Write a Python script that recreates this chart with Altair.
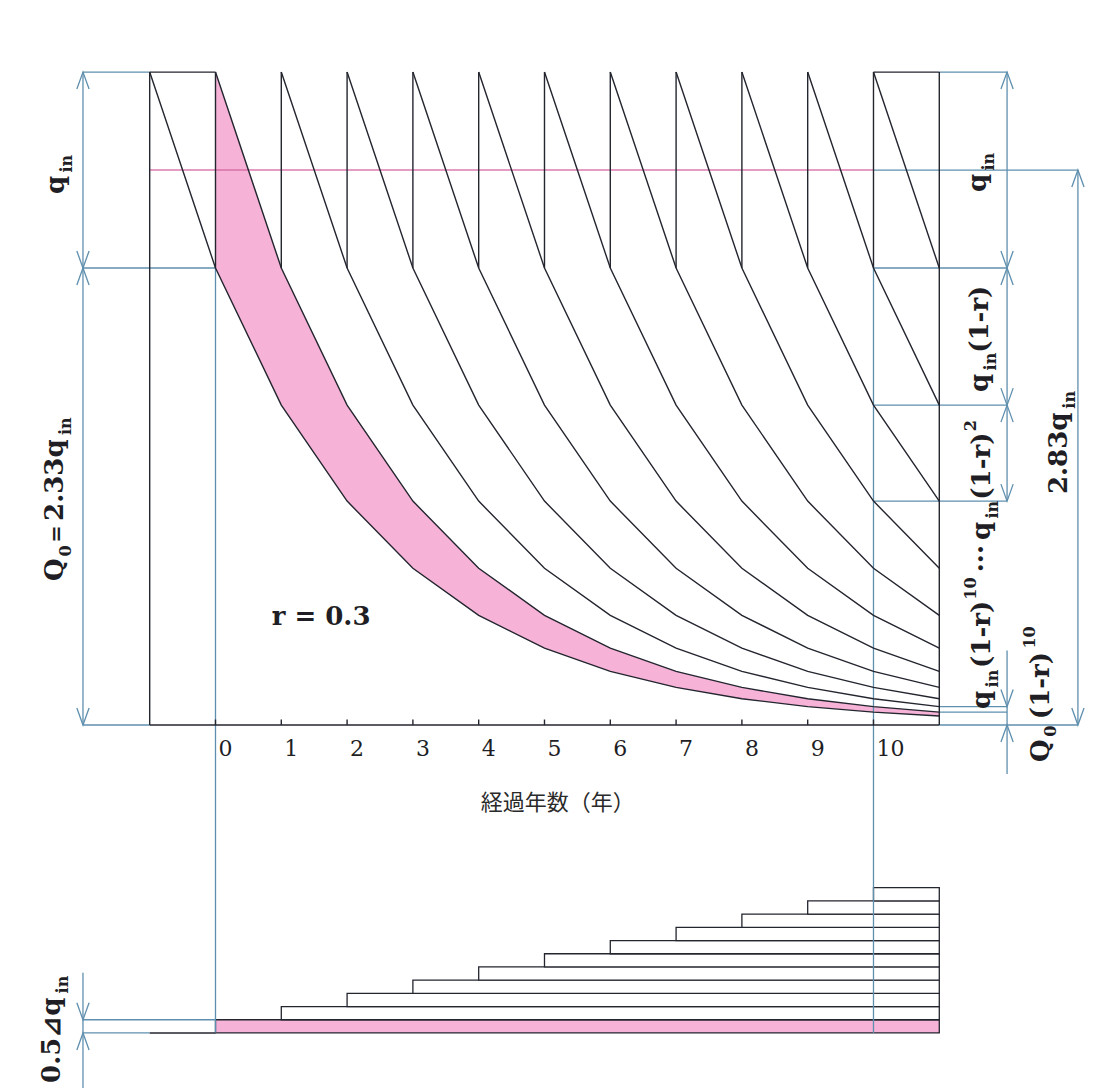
import altair as alt
import pandas as pd

# ---------------------------------------------------------------------------
# Stock left from one year's input q_in (in units of q_in) when the stock
# decays at r = 0.3 per year, s = 0 .. 12 years after the input enters.
stock_by_age = [3.333, 2.333, 1.633, 1.143, 0.800, 0.560, 0.392,
                0.274, 0.192, 0.134, 0.094, 0.066, 0.046]
layer_start_years = list(range(-1, 11))     # year at which each layer line starts
tick_years = list(range(0, 11))
tick_labels = [str(t) for t in tick_years]
end_year = 11
level_high = 3.333      # Q0 + q_in
level_q0 = 2.333        # Q0 = 2.33 q_in
level_mean = 2.833      # 2.83 q_in
right_marks = [2.333, 1.633, 1.143]          # layer levels read at year 11
tail_marks = [0.094, 0.066]
stair_start_years = list(range(0, 11))       # one row of 0.5 dq_in per year

# ---------------------------------------------------------------------------
DARK = "#23252f"
TEAL = "#5f8fae"
PINK = "#f6b2d7"
MAGENTA = "#d4649f"
SERIF = "DejaVu Serif"
CJK = "Noto Sans CJK JP"

XS = alt.Scale(domain=[-3.275, 13.640], nice=False, zero=False)
YS = alt.Scale(domain=[-1.853, 3.701], nice=False, zero=False)


def X(f):
    return alt.X(f, type="quantitative", scale=XS, axis=None)


def Y(f):
    return alt.Y(f, type="quantitative", scale=YS, axis=None)


DIM_L, DIM_R, DIM_FAR = -2.014, 12.03, 13.107
STAIR_BASE, STAIR_ROW = -1.572, 0.0674

# ---- layer lines ----------------------------------------------------------
rows = []
for k in layer_start_years:
    for s in range(0, end_year - k + 1):
        rows.append({"layer": k, "year": k + s, "q": stock_by_age[s]})
curves = pd.DataFrame(rows)

band = pd.DataFrame({
    "year": list(range(0, end_year + 1)),
    "upper": [stock_by_age[t] for t in range(0, end_year + 1)],
    "lower": [stock_by_age[t + 1] for t in range(0, end_year + 1)],
})

# ---- straight segments ----------------------------------------------------
def seg(x0, y0, x1, y1, kind):
    return {"x0": x0, "y0": y0, "x1": x1, "y1": y1, "kind": kind}


segs = [
    seg(-1, 0, -1, level_high, "dark"),
    seg(end_year, 0, end_year, level_high, "dark"),
    seg(-1, level_high, 0, level_high, "dark"),
    seg(10, level_high, end_year, level_high, "dark"),
    seg(-1, 0, end_year, 0, "dark"),
    seg(-1, STAIR_BASE, 0, STAIR_BASE, "dark"),
]
for t in tick_years:
    segs.append(seg(t, level_q0, t, level_high, "dark"))
    segs.append(seg(t, 0, t, 0.028, "dark"))

segs += [
    seg(DIM_L, 0, DIM_L, level_high, "teal"),
    seg(DIM_L, level_high, -1, level_high, "teal"),
    seg(DIM_L, level_q0, 0, level_q0, "teal"),
    seg(DIM_L, 0, -1, 0, "teal"),
    seg(0, level_q0, 0, STAIR_BASE, "teal"),
    seg(10, level_q0, 10, STAIR_BASE, "teal"),
    seg(end_year, level_high, DIM_R, level_high, "teal"),
    seg(10, level_mean, DIM_FAR, level_mean, "teal"),
    seg(end_year, 0, DIM_FAR, 0, "teal"),
    seg(DIM_R, level_high, DIM_R, right_marks[-1], "teal"),
    seg(DIM_R, 0.38, DIM_R, -0.25, "teal"),
    seg(DIM_FAR, level_mean, DIM_FAR, 0, "teal"),
    seg(DIM_L, STAIR_BASE + STAIR_ROW + 0.24, DIM_L, -1.853, "teal"),
    seg(DIM_L, STAIR_BASE + STAIR_ROW, 0, STAIR_BASE + STAIR_ROW, "teal"),
    seg(DIM_L, STAIR_BASE, -1, STAIR_BASE, "teal"),
]
for v in right_marks:
    segs.append(seg(10, v, DIM_R, v, "teal"))
for v in tail_marks:
    segs.append(seg(end_year, v, DIM_R, v, "teal"))
segs.append(seg(-1, level_mean, 10, level_mean, "mean"))
segs = pd.DataFrame(segs)

# ---- dimension arrow heads (tip position, 0 = pointing up) -----------------
heads = pd.DataFrame([
    {"x": DIM_L, "y": level_high, "a": 0},
    {"x": DIM_L, "y": level_q0, "a": 180},
    {"x": DIM_L, "y": level_q0, "a": 0},
    {"x": DIM_L, "y": 0, "a": 180},
    {"x": DIM_L, "y": STAIR_BASE + STAIR_ROW, "a": 180},
    {"x": DIM_L, "y": STAIR_BASE, "a": 0},
    {"x": DIM_R, "y": level_high, "a": 0},
    {"x": DIM_R, "y": right_marks[0], "a": 180},
    {"x": DIM_R, "y": right_marks[0], "a": 0},
    {"x": DIM_R, "y": right_marks[1], "a": 180},
    {"x": DIM_R, "y": right_marks[1], "a": 0},
    {"x": DIM_R, "y": right_marks[2], "a": 180},
    {"x": DIM_R, "y": tail_marks[0], "a": 180},
    {"x": DIM_R, "y": 0, "a": 0},
    {"x": DIM_FAR, "y": level_mean, "a": 0},
    {"x": DIM_FAR, "y": 0, "a": 180},
])

# ---- staircase of yearly additions ---------------------------------------
stairs = pd.DataFrame({
    "k": stair_start_years,
    "x0": stair_start_years,
    "x1": [end_year] * len(stair_start_years),
    "y0": [STAIR_BASE + k * STAIR_ROW for k in stair_start_years],
    "y1": [STAIR_BASE + (k + 1) * STAIR_ROW for k in stair_start_years],
})

# ---- rotated labels: pieces placed along the reading direction ------------
M, S = 26, 16
pieces = pd.DataFrame([
    # left: q_in
    {"x": -2.30, "y": 2.711, "t": "q", "fs": M},
    {"x": -2.18, "y": 2.820, "t": "in", "fs": S},
    # left: Q0 = 2.33 q_in
    {"x": -2.32, "y": 0.735, "t": "Q", "fs": M},
    {"x": -2.20, "y": 0.860, "t": "0", "fs": S},
    {"x": -2.32, "y": 0.930, "t": "=", "fs": 21},
    {"x": -2.32, "y": 1.042, "t": "2.33q", "fs": M},
    {"x": -2.20, "y": 1.480, "t": "in", "fs": S},
    # left: 0.5 dq_in
    {"x": -2.36, "y": -1.827, "t": "0.5⊿q", "fs": M},
    {"x": -2.24, "y": -1.370, "t": "in", "fs": S},
    # right: q_in
    {"x": 11.71, "y": 2.721, "t": "q", "fs": M},
    {"x": 11.83, "y": 2.830, "t": "in", "fs": S},
    # right: q_in(1-r)
    {"x": 11.74, "y": 1.700, "t": "q", "fs": M},
    {"x": 11.86, "y": 1.810, "t": "in", "fs": S},
    {"x": 11.74, "y": 1.900, "t": "(1-r)", "fs": M},
    # right: q_in(1-r)^10 ... q_in(1-r)^2
    {"x": 11.77, "y": 0.082, "t": "q", "fs": M},
    {"x": 11.89, "y": 0.192, "t": "in", "fs": S},
    {"x": 11.77, "y": 0.291, "t": "(1-r)", "fs": M},
    {"x": 11.56, "y": 0.640, "t": "10", "fs": S},
    {"x": 11.77, "y": 0.780, "t": "···", "fs": M},
    {"x": 11.77, "y": 0.944, "t": "q", "fs": M},
    {"x": 11.89, "y": 1.054, "t": "in", "fs": S},
    {"x": 11.77, "y": 1.150, "t": "(1-r)", "fs": M},
    {"x": 11.56, "y": 1.500, "t": "2", "fs": S},
    # right: Q0(1-r)^10
    {"x": 12.66, "y": -0.189, "t": "Q", "fs": M},
    {"x": 12.78, "y": -0.060, "t": "0", "fs": S},
    {"x": 12.66, "y": 0.030, "t": "(1-r)", "fs": M},
    {"x": 12.45, "y": 0.390, "t": "10", "fs": S},
    # right: 2.83 q_in
    {"x": 12.94, "y": 1.179, "t": "2.83q", "fs": M},
    {"x": 13.06, "y": 1.615, "t": "in", "fs": S},
])

ticks_df = pd.DataFrame({"year": tick_years, "label": tick_labels, "q": [-0.12] * len(tick_years)})
notes = pd.DataFrame([{"x": 1.605, "y": 0.551, "t": "r = 0.3"}])
title_df = pd.DataFrame([{"x": 5.2, "y": -0.398, "t": "経過年数（年）"}])

# ---------------------------------------------------------------------------
band_layer = alt.Chart(band).mark_area(color=PINK, opacity=1).encode(
    x=X("year"), y=Y("upper"), y2=alt.Y2("lower"))

stair_layer = alt.Chart(stairs).mark_rect(stroke=DARK, strokeWidth=1.3).encode(
    x=X("x0"), x2=alt.X2("x1"), y=Y("y0"), y2=alt.Y2("y1"),
    fill=alt.condition(alt.datum.k == 0, alt.value(PINK), alt.value("white")))

teal_layer = alt.Chart(segs).transform_filter(alt.datum.kind == "teal").mark_rule(
    color=TEAL, strokeWidth=1.3).encode(x=X("x0"), x2=alt.X2("x1"), y=Y("y0"), y2=alt.Y2("y1"))

mean_layer = alt.Chart(segs).transform_filter(alt.datum.kind == "mean").mark_rule(
    color=MAGENTA, strokeWidth=1.4, opacity=0.85).encode(
    x=X("x0"), x2=alt.X2("x1"), y=Y("y0"), y2=alt.Y2("y1"))

dark_layer = alt.Chart(segs).transform_filter(alt.datum.kind == "dark").mark_rule(
    color=DARK, strokeWidth=1.4).encode(x=X("x0"), x2=alt.X2("x1"), y=Y("y0"), y2=alt.Y2("y1"))

curve_layer = alt.Chart(curves).mark_line(color=DARK, strokeWidth=1.4).encode(
    x=X("year"), y=Y("q"), detail="layer:N", order="year:Q")

head_layer = alt.Chart(heads).mark_point(
    shape="M-0.36,1L0,0L0.36,1", filled=False, size=1156, color=TEAL,
    strokeWidth=1.3, opacity=1).encode(
    x=X("x"), y=Y("y"), angle=alt.Angle("a:Q", scale=None))

piece_layer = alt.Chart(pieces).mark_text(
    angle=270, align="left", baseline="alphabetic", font=SERIF,
    fontWeight="bold", color="#1e1e24").encode(
    x=X("x"), y=Y("y"), text="t:N", size=alt.Size("fs:Q", scale=None))

tick_text = alt.Chart(ticks_df).mark_text(
    align="left", baseline="middle", dx=3, font=SERIF, fontSize=22,
    color="#1e1e24").encode(x=X("year"), y=Y("q"), text="label:N")

note_layer = alt.Chart(notes).mark_text(
    align="center", baseline="middle", font=SERIF, fontWeight="bold",
    fontSize=26, color="#1e1e24").encode(x=X("x"), y=Y("y"), text="t:N")

title_layer = alt.Chart(title_df).mark_text(
    align="center", baseline="middle", font=CJK, fontSize=22,
    color="#2a2a2a").encode(x=X("x"), y=Y("y"), text="t:N")

chart = alt.layer(
    band_layer, stair_layer, teal_layer, mean_layer, dark_layer, curve_layer,
    head_layer, piece_layer, tick_text, note_layer, title_layer,
).properties(
    width=1113, height=1088, autosize=alt.AutoSizeParams(type="none"),
    padding=0, background="white",
).configure_view(stroke=None)

chart.save("out.html", embed_options={"renderer": "svg", "actions": False})
